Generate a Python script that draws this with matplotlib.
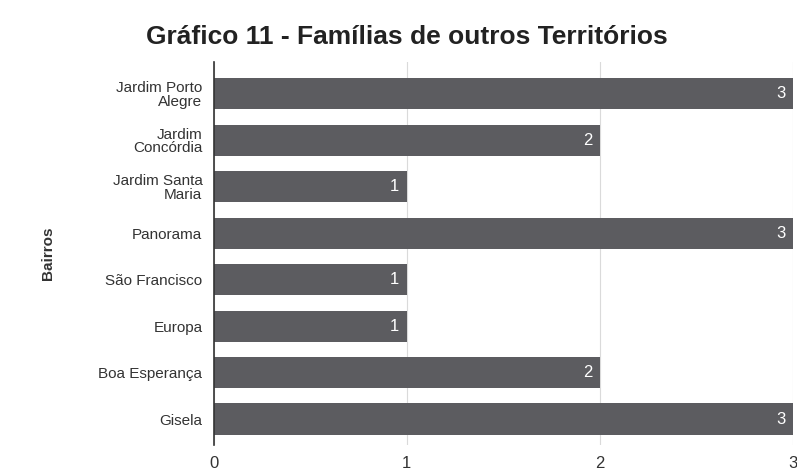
import matplotlib.pyplot as plt
import numpy as np

plt.rcParams['font.family'] = ['Liberation Sans', 'DejaVu Sans']

# dados (de baixo para cima)
bairros = ['Gisela', 'Boa Esperança', 'Europa', 'São Francisco', 'Panorama',
           'Jardim Santa\nMaria', 'Jardim\nConcórdia', 'Jardim Porto\nAlegre']
familias = [3, 2, 1, 1, 3, 1, 2, 3]
xticks = [0, 1, 2, 3]

fig = plt.figure(figsize=(7.97, 4.76), dpi=100)
ax = fig.add_axes([0.268, 0.065, 0.727, 0.805])

y = np.arange(len(bairros))
ax.barh(y, familias, height=0.67, color='#5c5c60', zorder=2)

# rótulos de valor dentro da barra
for yi, v in zip(y, familias):
    ax.text(v - 0.04, yi, str(v), color='white', ha='right', va='center',
            fontsize=12, zorder=3)

ax.set_xlim(0, 3)
ax.set_ylim(-0.56, 7.69)
ax.set_yticks(y)
ax.set_yticklabels(bairros, fontsize=11, color='#333333', linespacing=0.95,
                   multialignment='right')
ax.set_xticks(xticks)
ax.set_xticklabels([str(t) for t in xticks], fontsize=12, color='#333333')
ax.tick_params(axis='y', length=0, pad=8)
ax.tick_params(axis='x', length=0, pad=8)

ax.grid(axis='x', color='#dadada', linewidth=0.8, zorder=0)
for s in ['top', 'right', 'bottom']:
    ax.spines[s].set_visible(False)
ax.spines['left'].set_color('#333333')
ax.spines['left'].set_linewidth(1.2)

ax.set_ylabel('Bairros', fontsize=11, fontweight='bold', labelpad=31, color='#333333')
fig.suptitle('Gráfico 11 - Famílias de outros Territórios', fontsize=19,
             fontweight='bold', x=0.51, y=0.948, color='#222222')

fig.savefig('out.png', dpi=100)
